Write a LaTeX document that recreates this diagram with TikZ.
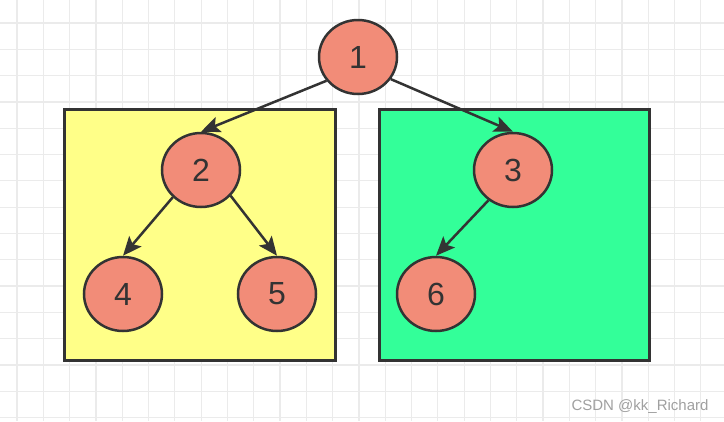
\documentclass[tikz,border=0pt]{standalone}
\usepackage{fontspec}
\setmainfont{Liberation Sans}
\usetikzlibrary{shapes.geometric,arrows.meta}
\definecolor{gridc}{RGB}{235,235,235}
\definecolor{ink}{RGB}{51,51,51}
\definecolor{salmon}{RGB}{242,140,120}
\definecolor{boxyellow}{RGB}{255,255,136}
\definecolor{boxgreen}{RGB}{51,255,153}
\definecolor{wm}{RGB}{160,160,160}
\tikzset{
  gridline/.style={draw=gridc, line width=1.2pt},
  groupbox/.style={draw=ink, line width=3pt},
  treenode/.style={ellipse, draw=ink, fill=salmon, line width=2.5pt,
    minimum width=78pt, minimum height=74pt, inner sep=0pt,
    font=\fontsize{32}{32}\selectfont, text=ink},
  treeedge/.style={draw=ink, line width=2.5pt, -{Stealth[length=19pt,width=16pt,inset=4pt]}},
}
\begin{document}
\begin{tikzpicture}[x=1pt,y=-1pt]
\useasboundingbox (0,0) rectangle (724,421);
\fill[white] (0,0) rectangle (724,421);
\foreach \i in {0,...,26} \draw[gridline] ({17+26.3*\i},0) -- ({17+26.3*\i},421);
\foreach \j in {0,...,15} \draw[gridline] (0,{23+26.3*\j}) -- (724,{23+26.3*\j});
\draw[groupbox, fill=boxyellow] (64.5,109.5) rectangle (335.5,360.5);
\draw[groupbox, fill=boxgreen] (379.5,109.5) rectangle (649.5,360.5);
\node[treenode] (n1) at (358,57) {1};
\node[treenode] (n2) at (201,170) {2};
\node[treenode] (n3) at (513,170) {3};
\node[treenode] (n4) at (123,294) {4};
\node[treenode] (n5) at (277,294) {5};
\node[treenode] (n6) at (436,294) {6};
\draw[treeedge] (n1.217) -- (n2.north);
\draw[treeedge] (n1.326) -- (n3.north);
\draw[treeedge] (n2.224) -- (n4.north);
\draw[treeedge] (n2.319) -- (n5.north);
\draw[treeedge] (n3.231) -- (n6.north);
\node[text=wm, font=\fontsize{15}{15}\selectfont, anchor=base] (wmark) at (640,410) {CSDN @kk\_Richard};
\end{tikzpicture}
\end{document}
